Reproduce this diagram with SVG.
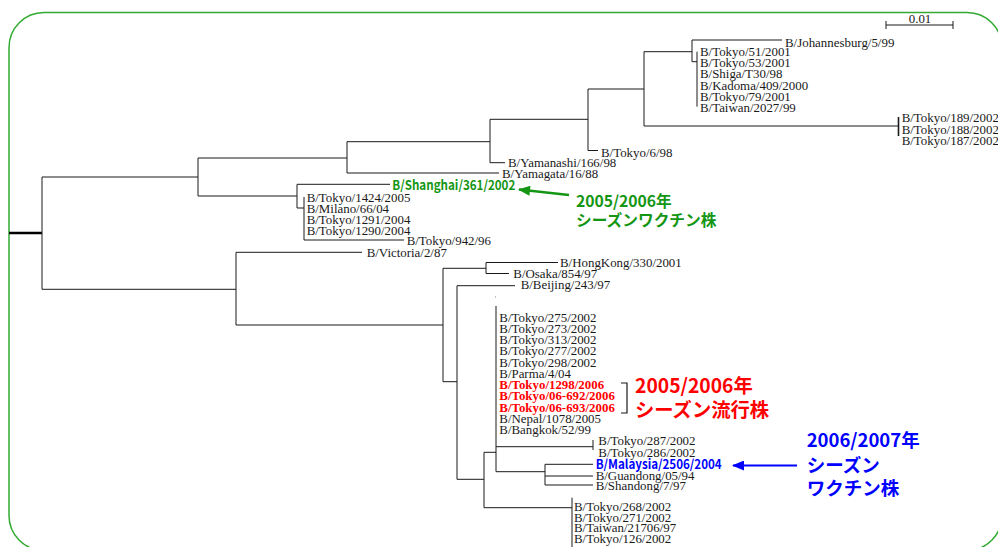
<svg xmlns="http://www.w3.org/2000/svg" width="998" height="547" viewBox="0 0 998 547">
<style>
.t{font-family:"Liberation Serif","Times New Roman",serif;font-size:12.9px;fill:#1a1a1a}
.r{font-family:"Liberation Serif","Times New Roman",serif;font-size:12.9px;fill:#ff0000;font-weight:bold}
.g{font-family:"Noto Sans CJK JP",sans-serif;font-weight:bold;fill:#149614}
.b{font-family:"Noto Sans CJK JP",sans-serif;font-weight:bold;fill:#0000ff}
.rj{font-family:"Noto Sans CJK JP",sans-serif;font-weight:bold;fill:#ff0000;font-size:19.3px}
.ln{fill:none;stroke:#1a1a1a;stroke-width:1}
</style>
<defs>
<marker id="ag" markerUnits="userSpaceOnUse" viewBox="0 0 12 10" refX="11" refY="5" markerWidth="13" markerHeight="10" orient="auto"><path d="M0 0L12 5L0 10z" fill="#149614"/></marker>
<marker id="ab" markerUnits="userSpaceOnUse" viewBox="0 0 12 10" refX="11" refY="5" markerWidth="14" markerHeight="10" orient="auto"><path d="M0 0L12 5L0 10z" fill="#0000ff"/></marker>
</defs>
<rect id="frame" x="9" y="12.5" width="993" height="538" rx="35" fill="none" stroke="#33aa33" stroke-width="1.5"/>
<g id="scale">
<path class="ln" d="M886 25H953M886 21V29M953 21V29"/>
<text class="t" x="920" y="22.5" font-size="12" text-anchor="middle">0.01</text>
</g>
<g id="connectors">
<path d="M9 233H42" stroke="#000" stroke-width="2.5" fill="none"/>
<path class="ln" d="M42 177V289.3M42 177H198M198 158V196M198 158H347M347 141.7V173M347 173H499M347 141.7H490M490 119.3V162.7M490 162.7H505M490 119.3H588M588 89V150.5M588 150.5H598M588 89H644M644 51.7V126M644 126H898M644 51.7H692M692 40V61.7M692 40H782M692 61.7H697M697 51.7V106.7"/>
<path d="M898.5 117V136" stroke="#1a1a1a" stroke-width="1.6" fill="none"/>
<path class="ln" d="M198 196H297M297 184.3V208M297 184.3H390M297 208H304M304 197V240M304 240H404"/>
<path class="ln" d="M42 289.3H236M236 252.3V325M236 252.3H362M236 325H443M443 268.3V381.7M443 268.3H486M486 262.5V273.5M486 262.5H558M486 273.5H509M443 381.7H457M457 285.7V479.3M457 285.7H515M457 479.3H484M484 452.3V507.7M484 452.3H496M496 306V471.7M496 446.7H593M593 440V450M496 471.7H545M545 464.3V485M545 464.3H593M545 476H593M545 485H593M484 507.7H572M572 497.7V547"/>
<path d="M495 297h1" stroke="#888" stroke-width="1" fill="none"/>
</g>
<g id="n-johannesburg"><text class="t" x="785" y="46.5">B/Johannesburg/5/99</text></g>
<g id="n-clade-tokyo51">
<text class="t" x="700" y="56">B/Tokyo/51/2001</text>
<text class="t" x="700" y="67.2">B/Tokyo/53/2001</text>
<text class="t" x="700" y="78.4">B/Shiga/T30/98</text>
<text class="t" x="700" y="89.6">B/Kadoma/409/2000</text>
<text class="t" x="700" y="100.8">B/Tokyo/79/2001</text>
<text class="t" x="700" y="112">B/Taiwan/2027/99</text>
</g>
<g id="n-clade-tokyo189">
<text class="t" x="901.7" y="122.3">B/Tokyo/189/2002</text>
<text class="t" x="901.7" y="133.6">B/Tokyo/188/2002</text>
<text class="t" x="901.7" y="144.9">B/Tokyo/187/2002</text>
</g>
<g id="n-tokyo6"><text class="t" x="601" y="157">B/Tokyo/6/98</text></g>
<g id="n-yamanashi"><text class="t" x="508" y="167">B/Yamanashi/166/98</text></g>
<g id="n-yamagata"><text class="t" x="502" y="177.5">B/Yamagata/16/88</text></g>
<g id="n-shanghai"><text class="g" x="392.3" y="190" font-size="13" textLength="123" lengthAdjust="spacingAndGlyphs">B/Shanghai/361/2002</text></g>
<g id="n-clade-tokyo1424">
<text class="t" x="306.7" y="202">B/Tokyo/1424/2005</text>
<text class="t" x="306.7" y="213">B/Milano/66/04</text>
<text class="t" x="306.7" y="224">B/Tokyo/1291/2004</text>
<text class="t" x="306.7" y="235">B/Tokyo/1290/2004</text>
</g>
<g id="n-tokyo942"><text class="t" x="406.7" y="245">B/Tokyo/942/96</text></g>
<g id="n-victoria"><text class="t" x="366.7" y="257.3">B/Victoria/2/87</text></g>
<g id="n-hongkong"><text class="t" x="560" y="266.7">B/HongKong/330/2001</text></g>
<g id="n-osaka"><text class="t" x="513.3" y="278.3">B/Osaka/854/97</text></g>
<g id="n-beijing"><text class="t" x="520.7" y="289.3">B/Beijing/243/97</text></g>
<g id="n-clade-tokyo275">
<text class="t" x="499.3" y="321.5">B/Tokyo/275/2002</text>
<text class="t" x="499.3" y="332.75">B/Tokyo/273/2002</text>
<text class="t" x="499.3" y="344">B/Tokyo/313/2002</text>
<text class="t" x="499.3" y="355.25">B/Tokyo/277/2002</text>
<text class="t" x="499.3" y="366.5">B/Tokyo/298/2002</text>
<text class="t" x="499.3" y="377.75">B/Parma/4/04</text>
<text class="r" x="499.3" y="389">B/Tokyo/1298/2006</text>
<text class="r" x="499.3" y="400.25">B/Tokyo/06-692/2006</text>
<text class="r" x="499.3" y="411.5">B/Tokyo/06-693/2006</text>
<text class="t" x="499.3" y="422.75">B/Nepal/1078/2005</text>
<text class="t" x="499.3" y="434">B/Bangkok/52/99</text>
</g>
<g id="n-clade-tokyo287">
<text class="t" x="598.3" y="445">B/Tokyo/287/2002</text>
<text class="t" x="598.3" y="456.7">B/Tokyo/286/2002</text>
</g>
<g id="n-malaysia"><text class="b" x="595.7" y="469" font-size="12.8" textLength="126" lengthAdjust="spacingAndGlyphs">B/Malaysia/2506/2004</text></g>
<g id="n-guandong"><text class="t" x="595.7" y="479.5">B/Guandong/05/94</text></g>
<g id="n-shandong"><text class="t" x="595.7" y="490">B/Shandong/7/97</text></g>
<g id="n-clade-tokyo268">
<text class="t" x="574" y="510.7">B/Tokyo/268/2002</text>
<text class="t" x="574" y="521.7">B/Tokyo/271/2002</text>
<text class="t" x="574" y="532.3">B/Taiwan/21706/97</text>
<text class="t" x="574" y="542.7">B/Tokyo/126/2002</text>
</g>
<g id="note-vaccine-0506">
<path d="M569 195L519 189.6" stroke="#149614" stroke-width="2.5" fill="none" marker-end="url(#ag)"/>
<text class="g" x="576" y="206.7" font-size="15.7">2005/2006年</text>
<text class="g" x="576" y="225.7" font-size="15.7">シーズンワクチン株</text>
</g>
<g id="note-epidemic-0506">
<path d="M621 383H627V413H621" stroke="#1a1a1a" stroke-width="1.2" fill="none"/>
<text class="rj" x="635" y="393.3">2005/2006年</text>
<text class="rj" x="635" y="416.7">シーズン流行株</text>
</g>
<g id="note-vaccine-0607">
<path d="M797 465.5H733" stroke="#0000ff" stroke-width="2" fill="none" marker-end="url(#ab)"/>
<text class="b" x="806.7" y="446.7" font-size="18.5">2006/2007年</text>
<text class="b" x="806.7" y="471.7" font-size="18.5">シーズン</text>
<text class="b" x="806.7" y="495" font-size="18.5">ワクチン株</text>
</g>
</svg>
